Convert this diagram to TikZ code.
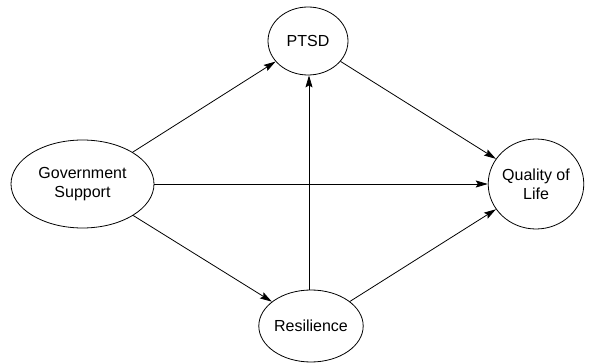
\documentclass[tikz,border=0pt]{standalone}
\usepackage{fontspec}
\setmainfont{Liberation Sans}
\usetikzlibrary{shapes.geometric,arrows.meta}
\begin{document}
\begin{tikzpicture}[x=1pt,y=1pt,
  var/.style={ellipse,draw,line width=0.8pt,inner sep=0pt,align=center,
    font=\fontsize{16}{19.3}\selectfont},
  link/.style={draw,line width=0.8pt,-{Stealth[length=12pt,width=7pt,inset=2pt]}}]
\useasboundingbox (0,0) rectangle (595,362);
\node[var,minimum width=143,minimum height=88] (gov) at (82.5,178) {Government\\Support};
\node[var,minimum width=80,minimum height=68] (ptsd) at (308,321) {PTSD};
\node[var,minimum width=92,minimum height=90] (qol) at (536,178) {Quality of\\Life};
\node[var,minimum width=98,minimum height=72] (res) at (311,36) {Resilience};
\draw[link] (gov) -- (ptsd);
\draw[link] (gov) -- (qol);
\draw[link] (gov) -- (res);
\draw[link] (ptsd) -- (qol);
\draw[link] (res.north -| 309,0) -- (ptsd.south -| 309,0);
\draw[link] (res) -- (qol);
\end{tikzpicture}
\end{document}
